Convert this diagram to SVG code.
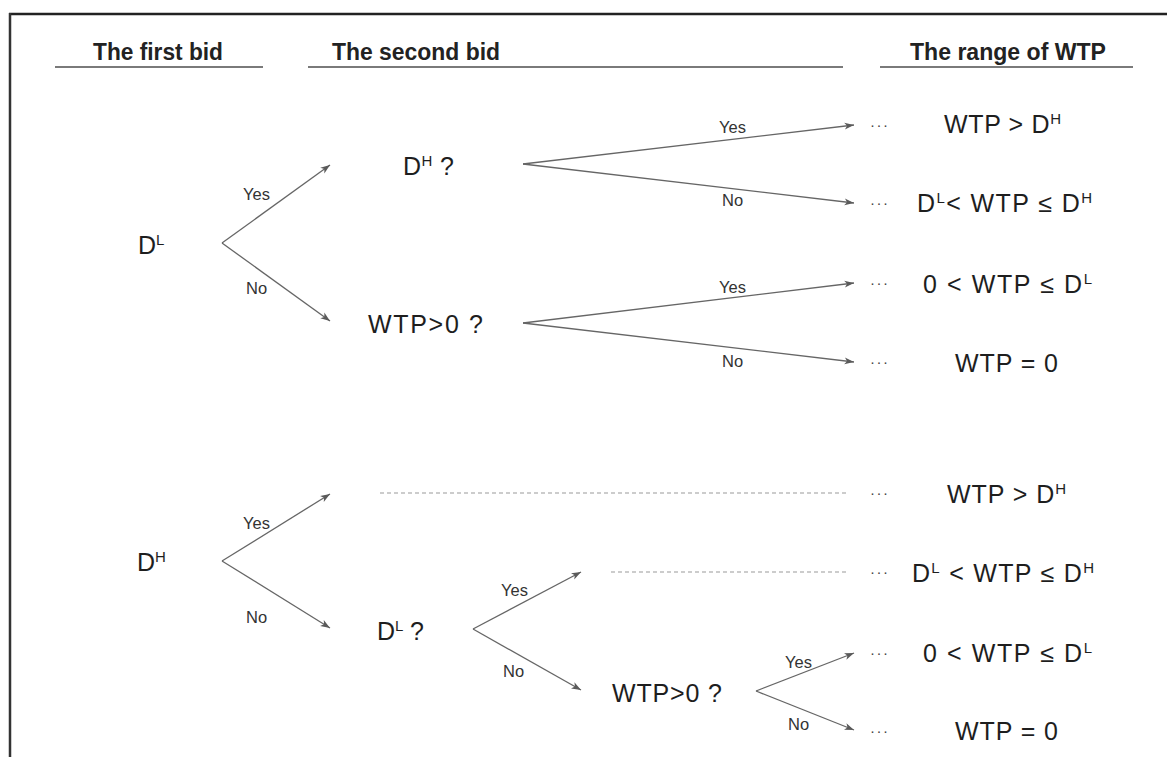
<svg xmlns="http://www.w3.org/2000/svg" width="1167" height="757" viewBox="0 0 1167 757">
<defs>
<marker id="arr" markerUnits="userSpaceOnUse" markerWidth="10" markerHeight="8" refX="9.5" refY="4" orient="auto">
<path d="M0,0.5 L9.5,4 L0,7.5 L2.5,4 z" fill="#5a5a5a"/>
</marker>
<style>
.hd{font-family:"Liberation Sans",Arial,sans-serif;font-weight:bold;font-size:23px;fill:#222}
.ul{stroke:#7a7a7a;stroke-width:2}
.t{font-family:"Liberation Sans",Arial,sans-serif;font-size:25px;fill:#1e1e1e}
.sup{font-size:15px}
.lb{font-family:"Liberation Sans",Arial,sans-serif;font-size:16.5px;fill:#333}
.dots{font-family:"Liberation Sans",Arial,sans-serif;font-size:15px;fill:#444;letter-spacing:1.5px}
.ar{stroke:#666;stroke-width:1.3;fill:none;marker-end:url(#arr)}
.da{stroke:#999;stroke-width:1.2;stroke-dasharray:4 3;fill:none}
</style>
</defs>
<rect width="1167" height="757" fill="#fff"/>
<g id="frame">
<line x1="9" y1="14" x2="1167" y2="14" stroke="#222" stroke-width="2.5"/>
<line x1="10" y1="13" x2="10" y2="757" stroke="#333" stroke-width="2.5"/>
</g>
<g id="headers">
<text class="hd" x="93" y="60" textLength="130" lengthAdjust="spacingAndGlyphs">The first bid</text>
<line class="ul" x1="55" y1="67" x2="263" y2="67"/>
<text class="hd" x="332" y="60" textLength="168" lengthAdjust="spacingAndGlyphs">The second bid</text>
<line class="ul" x1="308" y1="67" x2="843" y2="67"/>
<text class="hd" x="910" y="60" textLength="196" lengthAdjust="spacingAndGlyphs">The range of WTP</text>
<line class="ul" x1="880" y1="67" x2="1133" y2="67"/>
</g>
<g id="connectors">
<line class="ar" x1="222" y1="243" x2="330" y2="165"/>
<line class="ar" x1="222" y1="243" x2="330" y2="321"/>
<line class="ar" x1="523" y1="164" x2="854" y2="125"/>
<line class="ar" x1="523" y1="164" x2="854" y2="203"/>
<line class="ar" x1="523" y1="323" x2="854" y2="283"/>
<line class="ar" x1="523" y1="323" x2="854" y2="362"/>
<line class="ar" x1="222" y1="561" x2="330" y2="494"/>
<line class="ar" x1="222" y1="561" x2="330" y2="628"/>
<line class="ar" x1="473" y1="629" x2="581" y2="572"/>
<line class="ar" x1="473" y1="629" x2="581" y2="690"/>
<line class="ar" x1="756" y1="691" x2="854" y2="653"/>
<line class="ar" x1="756" y1="691" x2="854" y2="730"/>
<line class="da" x1="380" y1="493" x2="848" y2="493"/>
<line class="da" x1="611" y1="572" x2="848" y2="572"/>
<text class="lb" x="243" y="200">Yes</text>
<text class="lb" x="246" y="294">No</text>
<text class="lb" x="719" y="133">Yes</text>
<text class="lb" x="722" y="206">No</text>
<text class="lb" x="719" y="293">Yes</text>
<text class="lb" x="722" y="367">No</text>
<text class="lb" x="243" y="529">Yes</text>
<text class="lb" x="246" y="623">No</text>
<text class="lb" x="501" y="596">Yes</text>
<text class="lb" x="503" y="677">No</text>
<text class="lb" x="785" y="668">Yes</text>
<text class="lb" x="788" y="730">No</text>
</g>
<g id="n-first-DL"><text class="t" x="138" y="254">D<tspan class="sup" dy="-9">L</tspan></text></g>
<g id="n-first-DH"><text class="t" x="137" y="571">D<tspan class="sup" dy="-9">H</tspan></text></g>
<g id="n-q-DH"><text class="t" x="403" y="175" textLength="51" lengthAdjust="spacing">D<tspan class="sup" dy="-9">H</tspan><tspan dy="9"> ?</tspan></text></g>
<g id="n-q-wtp1"><text class="t" x="368" y="333" textLength="115" lengthAdjust="spacing">WTP&gt;0 ?</text></g>
<g id="n-q-DL"><text class="t" x="377" y="640" textLength="47" lengthAdjust="spacing">D<tspan class="sup" dy="-9">L</tspan><tspan dy="9"> ?</tspan></text></g>
<g id="n-q-wtp2"><text class="t" x="612" y="702" textLength="110" lengthAdjust="spacing">WTP&gt;0 ?</text></g>
<g id="dots">
<text class="dots" x="870" y="130">···</text>
<text class="dots" x="870" y="208">···</text>
<text class="dots" x="870" y="288">···</text>
<text class="dots" x="870" y="367">···</text>
<text class="dots" x="870" y="498">···</text>
<text class="dots" x="870" y="577">···</text>
<text class="dots" x="870" y="658">···</text>
<text class="dots" x="870" y="736">···</text>
</g>
<g id="r1"><text class="t" x="944" y="133" textLength="117" lengthAdjust="spacing">WTP &gt; D<tspan class="sup" dy="-9">H</tspan></text></g>
<g id="r2"><text class="t" x="917" y="212" textLength="175" lengthAdjust="spacing">D<tspan class="sup" dy="-9">L</tspan><tspan dy="9">&lt; WTP ≤ D</tspan><tspan class="sup" dy="-9">H</tspan></text></g>
<g id="r3"><text class="t" x="923" y="293" textLength="169" lengthAdjust="spacing">0 &lt; WTP ≤ D<tspan class="sup" dy="-9">L</tspan></text></g>
<g id="r4"><text class="t" x="955" y="372" textLength="103" lengthAdjust="spacing">WTP = 0</text></g>
<g id="r5"><text class="t" x="947" y="503" textLength="119" lengthAdjust="spacing">WTP &gt; D<tspan class="sup" dy="-9">H</tspan></text></g>
<g id="r6"><text class="t" x="912" y="582" textLength="182" lengthAdjust="spacing">D<tspan class="sup" dy="-9">L</tspan><tspan dy="9"> &lt; WTP ≤ D</tspan><tspan class="sup" dy="-9">H</tspan></text></g>
<g id="r7"><text class="t" x="923" y="662" textLength="169" lengthAdjust="spacing">0 &lt; WTP ≤ D<tspan class="sup" dy="-9">L</tspan></text></g>
<g id="r8"><text class="t" x="955" y="740" textLength="103" lengthAdjust="spacing">WTP = 0</text></g>
</svg>
